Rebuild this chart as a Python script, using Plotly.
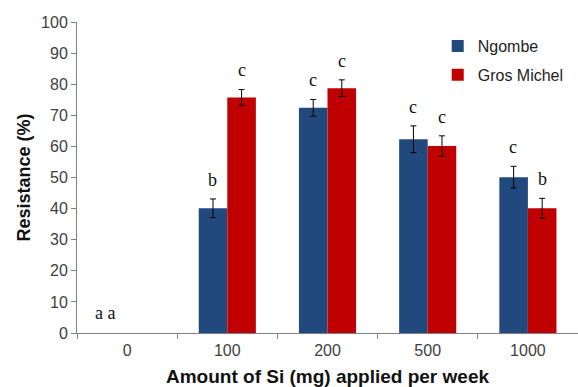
import plotly.graph_objects as go

categories = ["0", "100", "200", "500", "1000"]
ngombe = [0, 40.1, 72.4, 62.3, 50.1]
ngombe_err = [0, 3.0, 2.7, 4.3, 3.5]
gros_michel = [0, 75.7, 78.7, 60.1, 40.1]
gros_michel_err = [0, 2.6, 2.7, 3.3, 3.2]
ngombe_letters = ["a", "b", "c", "c", "c"]
gm_letters = ["a", "c", "c", "c", "b"]


def shown(vals):
    # an empty (zero) bar draws nothing, not even an error bar cap
    return [v if v > 0 else None for v in vals]


fig = go.Figure()
fig.add_trace(go.Bar(
    x=categories, y=shown(ngombe), name="Ngombe", legendgroup="n",
    marker=dict(color="#22497E", line=dict(width=0)),
    error_y=dict(type="data", array=ngombe_err, color="black", thickness=1, width=3),
))
fig.add_trace(go.Bar(
    x=categories, y=shown(gros_michel), name="Gros Michel", legendgroup="g",
    marker=dict(color="#C00000", line=dict(width=0)),
    error_y=dict(type="data", array=gros_michel_err, color="black", thickness=1, width=3),
))

letter_font = dict(family="Liberation Serif, Times New Roman, serif", size=18, color="#111")
for i, cat in enumerate(categories):
    if ngombe[i] == 0 and gros_michel[i] == 0:
        fig.add_annotation(x=i, y=0, text=ngombe_letters[i] + " " + gm_letters[i],
                           showarrow=False, yanchor="middle", yshift=20, xshift=-22,
                           font=letter_font)
        continue
    fig.add_annotation(x=i, y=ngombe[i] + ngombe_err[i], text=ngombe_letters[i],
                       showarrow=False, yanchor="middle", yshift=19, xshift=-14.5,
                       font=letter_font)
    fig.add_annotation(x=i, y=gros_michel[i] + gros_michel_err[i], text=gm_letters[i],
                       showarrow=False, yanchor="middle", yshift=19, xshift=14.5,
                       font=letter_font)

fig.update_layout(
    width=578, height=387,
    margin=dict(l=77, r=0, t=22, b=54),
    plot_bgcolor="white", paper_bgcolor="white",
    barmode="group", bargap=0.43, bargroupgap=0,
    font=dict(family="Liberation Sans, Arial, sans-serif", size=16, color="#404040"),
    legend=dict(x=0.72, y=0.977, xanchor="left", yanchor="top",
                font=dict(size=16, color="#222"), bgcolor="rgba(0,0,0,0)",
                itemwidth=30, tracegroupgap=5, traceorder="grouped"),
    showlegend=True,
)
fig.update_xaxes(
    type="category", range=[-0.5, 4.5], showline=True, linecolor="#808080", linewidth=1,
    ticks="outside", tickson="boundaries", ticklen=5, tickcolor="#808080",
    ticklabelstandoff=3,
    title=dict(text="<b>Amount of Si (mg) applied per week</b>",
               font=dict(size=19, color="#111"), standoff=13),
    showgrid=False,
)
fig.update_yaxes(
    range=[0, 100], dtick=10, showline=True, linecolor="#808080", linewidth=1,
    ticks="outside", ticklen=5, tickcolor="#808080", showgrid=False, zeroline=False,
    title=dict(text="<b>Resistance (%)</b>", font=dict(size=18, color="#111"), standoff=5),
)

fig.write_html("out.html")
